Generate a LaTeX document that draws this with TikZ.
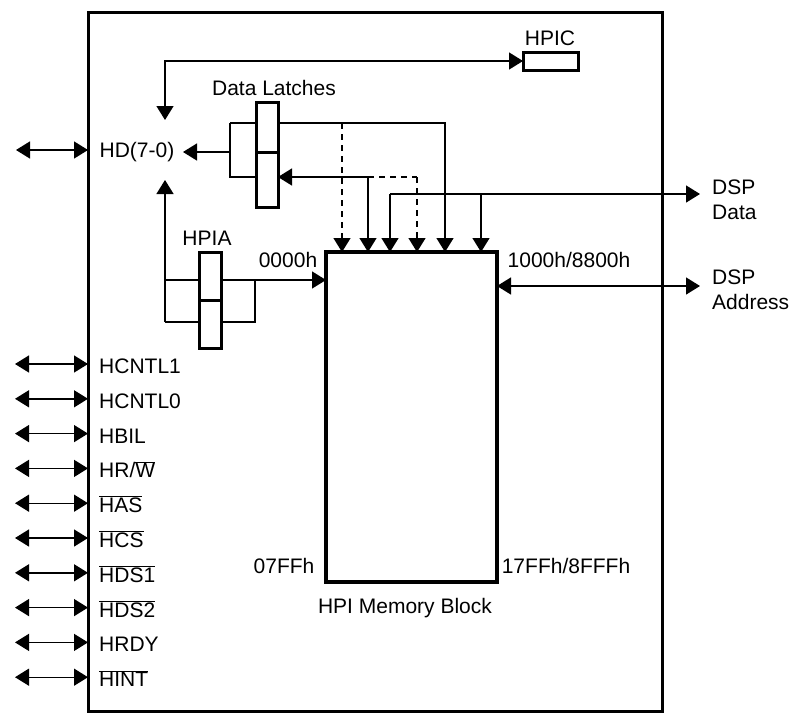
\documentclass[tikz,border=0pt]{standalone}
\usepackage{fontspec}
\setmainfont{Liberation Sans}
\usetikzlibrary{arrows.meta}
\newcommand\ovl[1]{$\overline{\hbox{#1}}$}
\begin{document}
\begin{tikzpicture}[x=1pt,y=-1pt,
  font=\fontsize{21}{25}\selectfont,
  thinln/.style={line width=1.4pt},
  tip/.tip={Triangle[length=14pt,width=17pt]},
  ar/.style={thinln,-tip},
  arr/.style={thinln,tip-tip},
  dsh/.style={dash pattern=on 6pt off 5pt},
  reg/.style={draw,line width=3pt,fill=white,inner sep=0pt,outer sep=0pt,minimum width=22pt},
  lbl/.style={inner sep=0pt},
  sig/.style={anchor=west,inner sep=0pt,text height=15pt,text depth=0pt}
]
\useasboundingbox (0,0) rectangle (795,720);

% outer chip box and memory block
\node[draw,line width=3pt,inner sep=0pt,outer sep=0pt,minimum width=574pt,minimum height=699pt] (chip) at (375,361.5) {};
\node[draw,line width=3.5pt,inner sep=0pt,outer sep=0pt,minimum width=171pt,minimum height=330pt] (mem) at (411.5,417) {};
\node[lbl] (memlbl) at (405,608) {HPI Memory Block};
\node[lbl] (m07) at (284,566) {07FFh};
\node[lbl] (m17) at (566,566) {17FFh/8FFFh};
\node[lbl] (m00) at (288,260) {0000h};
\node[lbl] (m10) at (569,260) {1000h/8800h};

% HPIC
\node[reg,minimum width=55pt,minimum height=18pt] (hpic) at (550.5,61) {};
\node[lbl] (hpiclbl) at (550,38) {HPIC};

% HD(7-0)
\node[lbl] (hd) at (137,152) {HD(7-0)};
\coordinate (hdT) at (165,120);
\coordinate (hdB) at (165,180);
\coordinate (hdR) at (183,152);
\coordinate (hdL) at (16,150);
\coordinate (hdC) at (chip.west |- hdL);
\draw[arr] (hdL) -- (hdC);
\draw[arr] (hdT) |- (hpic.west);

% Data latch bracket
\coordinate (lt) at (230,123);
\coordinate (lm) at (230,152);
\coordinate (lb) at (230,177);
\coordinate (lbr) at (256,177);
\coordinate (ltr) at (445,123);
\coordinate (dA) at (342,123);
\coordinate (sB) at (368,177);
\coordinate (dB) at (417,177);
\coordinate (dspD) at (390,194);
\coordinate (dspE) at (481,194);
\coordinate (dspT) at (700,194);
\draw[ar] (lm) -- (hdR);
\draw[thinln] (lbr) -- (lb) -- (lt);
\draw[ar] (lt) -- (ltr) -- (ltr |- mem.north);
\draw[ar,dsh] (dA) -- (dA |- mem.north);
\draw[ar] (sB) -- (sB |- mem.north);
\draw[thinln,dsh] (sB) -- (dB);
\draw[ar,dsh] (dB) -- (dB |- mem.north);
\draw[ar] (dspD) -- (dspT);
\draw[ar] (dspD) -- (dspD |- mem.north);
\draw[ar] (dspE) -- (dspE |- mem.north);

% latches
\node[reg,minimum height=50pt] (latA) at (267,127) {};
\node[reg,minimum height=55pt] (latB) at (267,179.5) {};
\draw[ar] (sB) -- (sB -| latB.east);
\node[lbl] (latlbl) at (274,88) {Data Latches};

% HPIA bracket
\coordinate (ha1) at (165,280);
\coordinate (ha2) at (165,322);
\coordinate (hb1) at (255,280);
\coordinate (hb2) at (255,322);
\draw[ar] (ha2) -- (hdB);
\draw[thinln] (ha1) -- (hb1) -- (hb2) -- (ha2);
\draw[ar] (hb1) -- (hb1 -| mem.west);
\node[reg,minimum height=48pt] (hpiaA) at (210,276) {};
\node[reg,minimum height=48pt] (hpiaB) at (210,324) {};
\node[lbl] (hpialbl) at (207,238) {HPIA};

% DSP address
\coordinate (dspA) at (700,286);
\draw[arr] (mem.east |- dspA) -- (dspA);
\node[anchor=west,align=left,inner sep=0pt] (dspdlbl) at (712,200) {DSP\\Data};
\node[anchor=west,align=left,inner sep=0pt] (dspalbl) at (712,290) {DSP\\Address};

% host signals
\coordinate (s1) at (15,364);
\coordinate (s2) at (15,398.8);
\coordinate (s3) at (15,433.6);
\coordinate (s4) at (15,468.4);
\coordinate (s5) at (15,503.2);
\coordinate (s6) at (15,538);
\coordinate (s7) at (15,572.8);
\coordinate (s8) at (15,607.6);
\coordinate (s9) at (15,642.4);
\coordinate (s10) at (15,677.2);
\foreach \i in {1,...,10} {\draw[arr] (s\i) -- (s\i -| chip.west);}
\node[sig] (n1) at (99,366) {HCNTL1};
\node[sig] (n2) at (99,400.8) {HCNTL0};
\node[sig] (n3) at (99,435.6) {HBIL};
\node[sig] (n4) at (99,470.4) {HR/\ovl{W}};
\node[sig] (n5) at (99,505.2) {\ovl{HAS}};
\node[sig] (n6) at (99,540) {\ovl{HCS}};
\node[sig] (n7) at (99,574.8) {\ovl{HDS1}};
\node[sig] (n8) at (99,609.6) {\ovl{HDS2}};
\node[sig] (n9) at (99,644.4) {HRDY};
\node[sig] (n10) at (99,679.2) {\ovl{HINT}};
\end{tikzpicture}
\end{document}
